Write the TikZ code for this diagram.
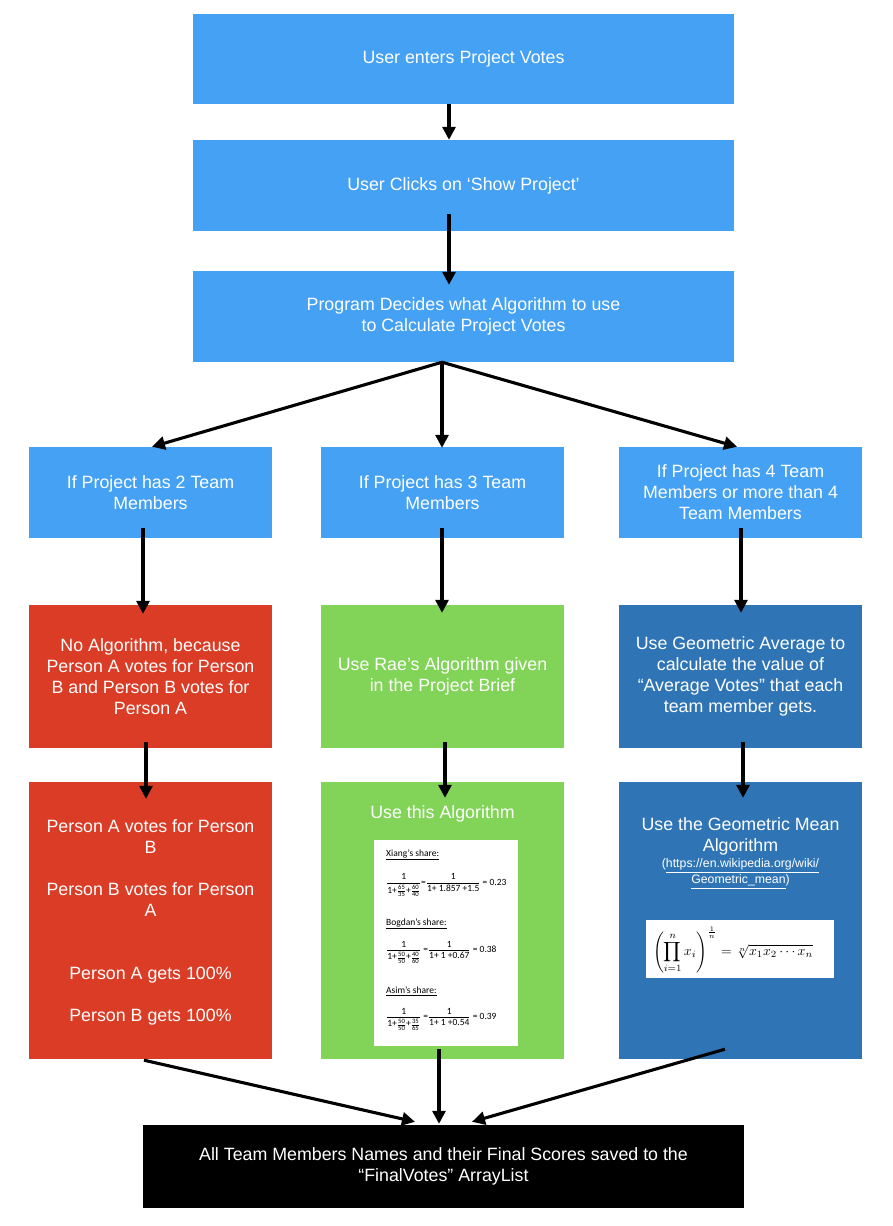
\documentclass[tikz,border=0pt]{standalone}
\usepackage[no-math]{fontspec}
\usepackage{amsmath}
\usepackage{graphicx}
\setmainfont{Liberation Sans}
\newfontfamily\carl{Carlito}
\usetikzlibrary{arrows.meta,calc}
\definecolor{lblue}{HTML}{44A1F4}
\definecolor{cred}{HTML}{DA3C26}
\definecolor{cgreen}{HTML}{82D458}
\definecolor{dblue}{HTML}{2F75B6}
\newcommand\mt[1]{\text{#1}}
\begin{document}
\begin{tikzpicture}[x=1pt,y=-1pt,
  box/.style={rectangle,inner sep=0pt,text=white,align=center,font=\fontsize{17.8}{21}\selectfont},
  col/.style={box,minimum width=243pt},
  lbl/.style={inner sep=0pt,text=white,align=center,font=\fontsize{17.8}{21}\selectfont},
  sm/.style={inner sep=0pt,anchor=west,font=\carl\fontsize{9.5}{11}\selectfont},
  arr/.style={line width=3.1pt,-{Triangle[length=13pt,width=13pt]}}]
\path[fill=white,use as bounding box] (0,0) rectangle (892,1226);
% top boxes
\node[box,fill=lblue,minimum width=541pt,minimum height=90pt] (b1) at (463.5,59) {User enters Project Votes};
\node[box,fill=lblue,minimum width=541pt,minimum height=91pt] (b2) at (463.5,185.5) {User Clicks on ‘Show Project’};
\node[box,fill=lblue,minimum width=541pt,minimum height=91pt] (b3) at (463.5,316.5) {Program Decides what Algorithm to use\\to Calculate Project Votes};
% row 2
\node[col,fill=lblue,minimum height=91pt] (l2) at (150.5,492.5) {If Project has 2 Team\\Members};
\node[col,fill=lblue,minimum height=91pt] (m2) at (442.5,492.5) {If Project has 3 Team\\Members};
\node[col,fill=lblue,minimum height=91pt] (r2) at (740.5,492.5) {If Project has 4 Team\\Members or more than 4\\Team Members};
% row 3
\node[col,fill=cred,minimum height=143pt] (l3) at (150.5,676.5) {No Algorithm, because\\Person A votes for Person\\B and Person B votes for\\Person A};
\node[col,fill=cgreen,minimum height=143pt] (m3) at (442.5,676.5) {Use Rae’s Algorithm given\\in the Project Brief};
\node[col,fill=dblue,minimum height=143pt] (r3) at (740.5,676.5) {Use Geometric Average to\\calculate the value of\\“Average Votes” that each\\team member gets.};
% row 4
\node[col,fill=cred,minimum height=277pt] (l4) at (150.5,920.5) {};
\node[col,fill=cgreen,minimum height=277pt] (m4) at (442.5,920.5) {};
\node[col,fill=dblue,minimum height=277pt] (r4) at (740.5,920.5) {};
\node[lbl,anchor=north] (l4t) at (150.5,819.5) {Person A votes for Person\\B\\[21pt]Person B votes for Person\\A\\[42pt]Person A gets 100\%\\[21pt]Person B gets 100\%};
\node[lbl,anchor=north] (m4t) at (442.5,805.5) {Use this Algorithm};
\node[lbl,anchor=north] (r4t) at (740.5,817.5) {Use the Geometric Mean\\Algorithm};
\node[lbl,anchor=north,font=\fontsize{12.3}{16}\selectfont] (url) at (740.5,858.5) {(\underline{https://en.wikipedia.org/wiki/}\\\underline{Geometric\_mean})};
% image in green box
\node[fill=white,minimum width=144pt,minimum height=206pt,inner sep=0pt] (img1) at (446,943) {};
\node[sm] (xs) at (386,855) {\underline{Xiang’s share:}};
\node[sm] (xf) at (386,885) {$\displaystyle\frac{\mt{1}}{\mt{1+}\frac{\mt{65}}{\mt{35}}\mt{+}\frac{\mt{60}}{\mt{40}}}\mt{=}\frac{\mt{1}}{\mt{1+ 1.857 +1.5}}\mt{ = 0.23}$};
\node[sm] (bs) at (386,924) {\underline{Bogdan’s share:}};
\node[sm] (bf) at (386,952) {$\displaystyle\frac{\mt{1}}{\mt{1+}\frac{\mt{50}}{\mt{50}}\mt{+}\frac{\mt{40}}{\mt{60}}}\mt{ =}\frac{\mt{1}}{\mt{1+ 1 +0.67}}\mt{ = 0.38}$};
\node[sm] (as) at (386,991) {\underline{Asim’s share:}};
\node[sm] (af) at (386,1019) {$\displaystyle\frac{\mt{1}}{\mt{1+}\frac{\mt{50}}{\mt{50}}\mt{+}\frac{\mt{35}}{\mt{65}}}\mt{ =}\frac{\mt{1}}{\mt{1+ 1 +0.54}}\mt{ = 0.39}$};
% image in dark blue box
\node[fill=white,minimum width=188pt,minimum height=58pt,inner sep=0pt] (img2) at (740,949) {};
\node[inner sep=0pt] (gm) at (733,950) {\resizebox{160pt}{!}{$\displaystyle\left(\prod_{i=1}^{n}x_i\right)^{\frac{1}{n}}=\sqrt[n]{x_1x_2\cdots x_n}$}};
% bottom
\node[box,fill=black,minimum width=601pt,minimum height=83pt] (bot) at (443.5,1166.5) {All Team Members Names and their Final Scores saved to the\\“FinalVotes” ArrayList};
% arrows
\draw[arr] ($(b1.south)+(-14.5,0)$) -- ($(b2.north)+(-14.5,0)$);
\draw[arr] ($(b2.south)+(-14.5,-17)$) -- ($(b3.north)+(-14.5,14)$);
\draw[arr] ($(b3.south)+(-21.5,0)$) -- ($(l2.north)+(1.5,0)$);
\draw[arr] ($(b3.south)+(-21.5,0)$) -- ($(m2.north)+(-0.5,1)$);
\draw[arr] ($(b3.south)+(-21.5,0)$) -- ($(r2.north)+(-3.5,0)$);
\draw[arr] ($(l2.south)+(-7.5,-10)$) -- ($(l3.north)+(-7.5,9)$);
\draw[arr] ($(m2.south)+(-0.5,-10)$) -- ($(m3.north)+(-0.5,8)$);
\draw[arr] ($(r2.south)+(0.5,-10)$) -- ($(r3.north)+(0.5,8)$);
\draw[arr] ($(l3.south)+(-4.5,-6)$) -- ($(l4.north)+(-4.5,17)$);
\draw[arr] ($(m3.south)+(2.5,-6)$) -- ($(m4.north)+(2.5,16)$);
\draw[arr] ($(r3.south)+(2.5,-6)$) -- ($(r4.north)+(2.5,16)$);
\draw[arr] ($(l4.south)+(-6.5,1)$) -- ($(bot.north)+(-28.5,-3)$);
\draw[arr] ($(m4.south)+(-3.5,-10)$) -- ($(bot.north)+(-4.5,-1)$);
\draw[arr] ($(r4.south)+(-15.5,-10)$) -- ($(bot.north)+(28.5,-3)$);
\end{tikzpicture}
\end{document}
